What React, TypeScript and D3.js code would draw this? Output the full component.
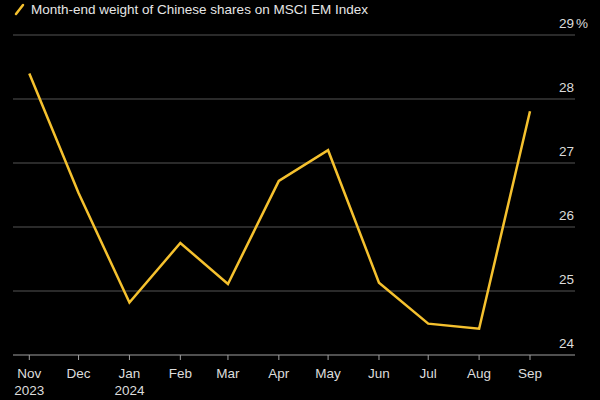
import React from "react";
import * as d3 from "d3";

const months = ["2023-11-01","2023-12-01","2024-01-01","2024-02-01","2024-03-01","2024-04-01","2024-05-01","2024-06-01","2024-07-01","2024-08-01","2024-09-01"];
const monthLabels = ["Nov","Dec","Jan","Feb","Mar","Apr","May","Jun","Jul","Aug","Sep"];
const yearLabels = ["2023","","2024","","","","","","","",""];
const weights = [28.4, 26.53, 24.82, 25.75, 25.11, 26.72, 27.2, 25.13, 24.49, 24.41, 27.81];
const yTicks = [24, 25, 26, 27, 28, 29];
const title = "Month-end weight of Chinese shares on MSCI EM Index";

const W = 600, H = 400;
const parse = d3.timeParse("%Y-%m-%d");

export default function App() {
  const dates = months.map((m) => parse(m) as Date);
  const x = d3.scaleTime().domain([dates[0], dates[dates.length - 1]]).range([29.3, 530]);
  const y = d3.scaleLinear().domain([24, 29]).range([355, 35]);
  const gridL = 13, gridR = 575;
  const line = d3.line<number>().x((_, i) => x(dates[i])).y((d) => y(d));
  const font = "Helvetica, Arial, 'Liberation Sans', sans-serif";
  const fs = 13.5;
  return (
    <div style={{ position: "fixed", left: 0, top: 0, width: W, height: H, background: "#000" }}>
      <svg width={W} height={H} style={{ display: "block", fontFamily: font }}>
        <rect width={W} height={H} fill="#000" />
        <line x1={16} y1={14} x2={23} y2={5} stroke="#f5c12e" strokeWidth={2.5} strokeLinecap="round" />
        <text x={31} y={13.5} fill="#e6e6e6" fontSize={fs}>{title}</text>
        {yTicks.map((t) => (
          <g key={t}>
            <line x1={gridL} x2={gridR} y1={y(t)} y2={y(t)} stroke={t === 24 ? "#a0a0a0" : "#555"} strokeWidth={1} />
            <text x={574} y={y(t) - 7} fill="#dcdcdc" fontSize={fs} textAnchor="end">{t}</text>
            {t === 29 && <text x={576} y={y(t) - 7} fill="#dcdcdc" fontSize={fs}>%</text>}
          </g>
        ))}
        {dates.map((d, i) => (
          <g key={i}>
            <line x1={x(d)} x2={x(d)} y1={355} y2={360} stroke="#a0a0a0" strokeWidth={1} />
            <text x={x(d)} y={378} fill="#dcdcdc" fontSize={fs} textAnchor="middle">{monthLabels[i]}</text>
            {yearLabels[i] && (
              <text x={x(d)} y={395} fill="#dcdcdc" fontSize={fs} textAnchor="middle">{yearLabels[i]}</text>
            )}
          </g>
        ))}
        <path d={line(weights) || ""} fill="none" stroke="#f5c12e" strokeWidth={2.5} strokeLinejoin="miter" />
      </svg>
    </div>
  );
}
